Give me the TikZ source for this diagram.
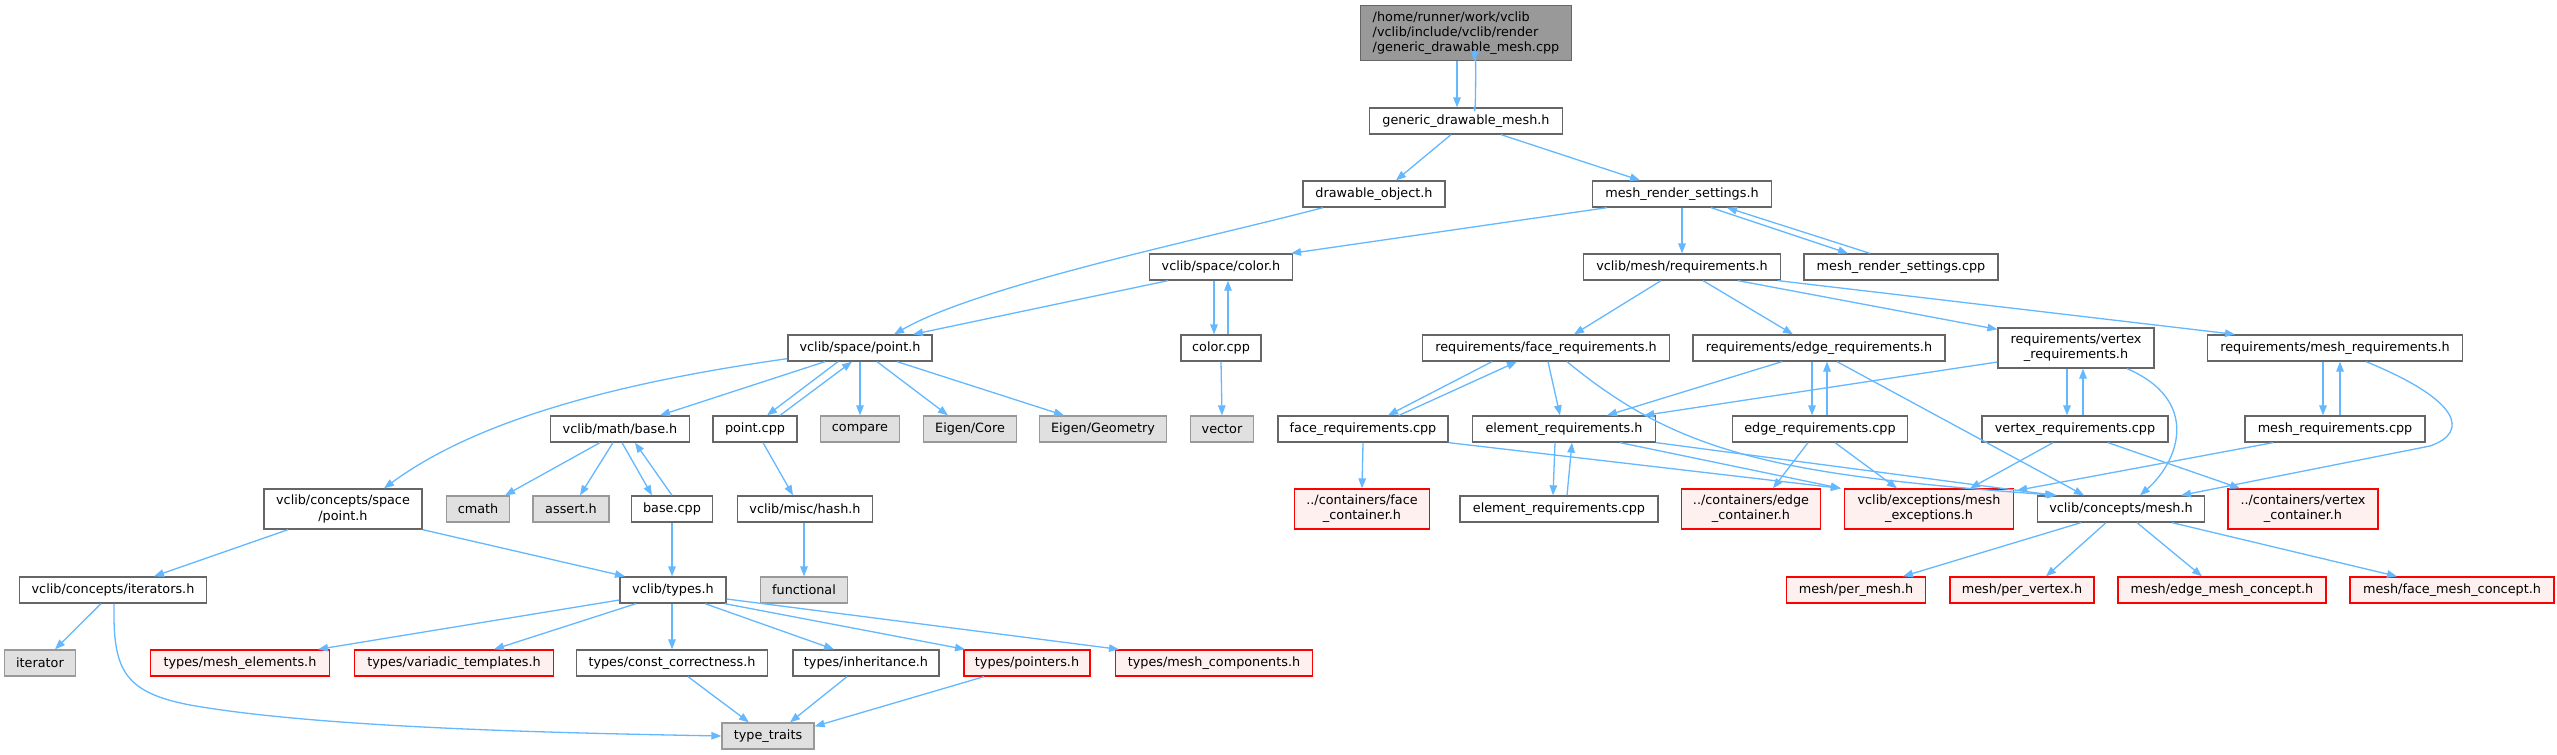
\documentclass[tikz,border=0pt]{standalone}
\usepackage{fontspec}
\usetikzlibrary{arrows.meta}
\newfontfamily\dvsans{DejaVu Sans}
\newcommand\nodefont{\dvsans\fontsize{12.8}{15.2}\selectfont}
\definecolor{edgeblue}{HTML}{63B8FF}
\definecolor{bordergray}{HTML}{666666}
\definecolor{rootfill}{HTML}{999999}
\definecolor{sysfill}{HTML}{E0E0E0}
\definecolor{sysborder}{HTML}{999999}
\definecolor{undocfill}{HTML}{FFF0F0}
\definecolor{undocborder}{HTML}{FF0000}
\tikzset{
  nd/.style={draw=bordergray, fill=white, line width=1.3pt, minimum height=26, inner xsep=3pt, inner ysep=1pt, font=\nodefont, align=center},
  two/.style={minimum height=40},
  rootnode/.style={nd, fill=rootfill, minimum height=55, align=left},
  sys/.style={nd, draw=sysborder, fill=sysfill},
  undoc/.style={nd, draw=undocborder, fill=undocfill},
  dep/.style={draw=edgeblue, line width=1.3pt, -{Triangle[length=10pt,width=7.5pt]}}
}
\begin{document}
\begin{tikzpicture}[x=1pt,y=-1pt]
\useasboundingbox[fill=white] (0,0) rectangle (2557,755);
% row 0
\node[rootnode, minimum width=211] (root) at (1466,33) {/home/runner/work/vclib\\/vclib/include/vclib/render\\/generic\_drawable\_mesh.cpp};
% row 1
\node[nd, minimum width=193] (gdm) at (1466,121) {generic\_drawable\_mesh.h};
% row 2
\node[nd, minimum width=142] (dobj) at (1374,194) {drawable\_object.h};
\node[nd, minimum width=179] (mrs) at (1682,194) {mesh\_render\_settings.h};
% row 3
\node[nd, minimum width=143] (color) at (1221,267) {vclib/space/color.h};
\node[nd, minimum width=197] (req) at (1682,267) {vclib/mesh/requirements.h};
\node[nd, minimum width=194] (mrscpp) at (1901,267) {mesh\_render\_settings.cpp};
% row 4
\node[nd, minimum width=144] (point) at (860,348) {vclib/space/point.h};
\node[nd, minimum width=80] (colorcpp) at (1221,348) {color.cpp};
\node[nd, minimum width=247] (facereq) at (1546,348) {requirements/face\_requirements.h};
\node[nd, minimum width=252] (edgereq) at (1819,348) {requirements/edge\_requirements.h};
\node[nd, two, minimum width=156] (vertreq) at (2076,348) {requirements/vertex\\\_requirements.h};
\node[nd, minimum width=255] (meshreq) at (2335,348) {requirements/mesh\_requirements.h};
% row 5
\node[nd, minimum width=139] (mathbase) at (620,429) {vclib/math/base.h};
\node[nd, minimum width=84] (pointcpp) at (755,429) {point.cpp};
\node[sys, minimum width=79] (compare) at (860,429) {compare};
\node[sys, minimum width=93] (eigencore) at (970,429) {Eigen/Core};
\node[sys, minimum width=127] (eigengeo) at (1103,429) {Eigen/Geometry};
\node[sys, minimum width=63] (vector) at (1222,429) {vector};
\node[nd, minimum width=170] (facecpp) at (1363,429) {face\_requirements.cpp};
\node[nd, minimum width=183] (elemreq) at (1564,429) {element\_requirements.h};
\node[nd, minimum width=175] (edgecpp) at (1820,429) {edge\_requirements.cpp};
\node[nd, minimum width=186] (vertcpp) at (2075,429) {vertex\_requirements.cpp};
\node[nd, minimum width=180] (meshcpp) at (2335,429) {mesh\_requirements.cpp};
% row 6
\node[nd, two, minimum width=158] (cspoint) at (343,509) {vclib/concepts/space\\/point.h};
\node[sys, minimum width=63] (cmath) at (478,509) {cmath};
\node[sys, minimum width=76] (assert) at (571,509) {assert.h};
\node[nd, minimum width=81] (basecpp) at (672,509) {base.cpp};
\node[nd, minimum width=135] (hash) at (805,509) {vclib/misc/hash.h};
\node[undoc, two, minimum width=135] (facecont) at (1362,509) {../containers/face\\\_container.h};
\node[nd, minimum width=198] (elemcpp) at (1559,509) {element\_requirements.cpp};
\node[undoc, two, minimum width=139] (edgecont) at (1751,509) {../containers/edge\\\_container.h};
\node[undoc, two, minimum width=169] (meshexc) at (1929,509) {vclib/exceptions/mesh\\\_exceptions.h};
\node[nd, minimum width=167] (cmesh) at (2121,509) {vclib/concepts/mesh.h};
\node[undoc, two, minimum width=150] (vertcont) at (2303,509) {../containers/vertex\\\_container.h};
% row 7
\node[nd, minimum width=187] (iterators) at (113,590) {vclib/concepts/iterators.h};
\node[nd, minimum width=106] (types) at (673,590) {vclib/types.h};
\node[sys, minimum width=87] (functional) at (804,590) {functional};
\node[undoc, minimum width=139] (permesh) at (1856,590) {mesh/per\_mesh.h};
\node[undoc, minimum width=144] (pervertex) at (2022,590) {mesh/per\_vertex.h};
\node[undoc, minimum width=208] (edgeconcept) at (2222,590) {mesh/edge\_mesh\_concept.h};
\node[undoc, minimum width=204] (faceconcept) at (2452,590) {mesh/face\_mesh\_concept.h};
% row 8
\node[sys, minimum width=71] (iterator) at (40,663) {iterator};
\node[undoc, minimum width=179] (meshelem) at (240,663) {types/mesh\_elements.h};
\node[undoc, minimum width=199] (variadic) at (454,663) {types/variadic\_templates.h};
\node[nd, minimum width=191] (constcorr) at (672,663) {types/const\_correctness.h};
\node[nd, minimum width=146] (inherit) at (866,663) {types/inheritance.h};
\node[undoc, minimum width=126] (pointers) at (1027,663) {types/pointers.h};
\node[undoc, minimum width=197] (meshcomp) at (1214,663) {types/mesh\_components.h};
% row 9
\node[sys, minimum width=92] (typetraits) at (768,736) {type\_traits};

% ---------- edges ----------
\draw[dep] ([xshift=-9]root.south) -- ([xshift=-9]gdm.north);
\draw[dep] ([xshift=8]gdm.north) .. controls ([xshift=10,yshift=-20]gdm.north) and ([xshift=10,yshift=20]root.south) .. ([xshift=8]root.south);
\draw[dep] ([xshift=-15]gdm.south) -- ([xshift=22]dobj.north);
\draw[dep] ([xshift=35]gdm.south) -- ([xshift=-42]mrs.north);
\draw[dep] ([xshift=-51]dobj.south) .. controls (1200,240) and (980,285) .. ([xshift=34]point.north);
\draw[dep] ([xshift=-75]mrs.south) -- ([xshift=70]color.north);
\draw[dep] (mrs.south) -- (req.north);
\draw[dep] ([xshift=29]mrs.south) -- ([xshift=-53]mrscpp.north);
\draw[dep] ([xshift=-31]mrscpp.north) -- ([xshift=45]mrs.south);
\draw[dep] ([xshift=-53]color.south) -- ([xshift=53]point.north);
\draw[dep] ([xshift=-7]color.south) -- ([xshift=-7]colorcpp.north);
\draw[dep] ([xshift=7]colorcpp.north) -- ([xshift=7]color.south);
\draw[dep] (colorcpp.south) -- (vector.north);
\draw[dep] ([yshift=3]point.south west) .. controls (600,385) and (470,425) .. ([xshift=41]cspoint.north);
\draw[dep] ([xshift=-35]point.south) -- ([xshift=40]mathbase.north);
\draw[dep] ([xshift=-22]point.south) -- ([xshift=12]pointcpp.north);
\draw[dep] ([xshift=25]pointcpp.north) -- ([xshift=-8]point.south);
\draw[dep] (point.south) -- (compare.north);
\draw[dep] ([xshift=17]point.south) -- ([xshift=-22]eigencore.north);
\draw[dep] ([xshift=37]point.south) -- ([xshift=-39]eigengeo.north);
\draw[dep] ([xshift=-20]mathbase.south) -- ([xshift=27]cmath.north);
\draw[dep] ([xshift=-7]mathbase.south) -- ([xshift=9]assert.north);
\draw[dep] ([xshift=2]mathbase.south) -- ([xshift=-20]basecpp.north);
\draw[dep] (basecpp.north) -- ([xshift=15]mathbase.south);
\draw[dep] (basecpp.south) -- ([xshift=-1]types.north);
\draw[dep] ([xshift=8]pointcpp.south) -- ([xshift=-12]hash.north);
\draw[dep] ([xshift=-1]hash.south) -- (functional.north);
\draw[dep] ([xshift=-55]cspoint.south) -- ([xshift=41]iterators.north);
\draw[dep] (cspoint.south east) -- ([xshift=-48]types.north);
\draw[dep] ([xshift=-12]iterators.south) -- ([xshift=15]iterator.north);
\draw[dep] ([xshift=1]iterators.south) .. controls (113,668) and (122,692) .. (190,705) .. controls (320,728) and (560,733) .. (typetraits.west);
\draw[dep] ([yshift=-10]types.west) -- ([xshift=78]meshelem.north);
\draw[dep] ([xshift=-37]types.south) -- ([xshift=40]variadic.north);
\draw[dep] ([xshift=-1]types.south) -- (constcorr.north);
\draw[dep] ([xshift=32]types.south) -- ([xshift=-32]inherit.north);
\draw[dep] ([xshift=-2]types.south east) -- ([xshift=-62]pointers.north);
\draw[dep] ([yshift=-9]types.east) -- ([xshift=-95]meshcomp.north);
\draw[dep] ([xshift=16]constcorr.south) -- ([xshift=-19]typetraits.north);
\draw[dep] ([xshift=-19]inherit.south) -- ([xshift=22]typetraits.north);
\draw[dep] ([xshift=-43]pointers.south) -- ([yshift=-4]typetraits.north east);
\draw[dep] ([xshift=-21]req.south) -- ([xshift=28]facereq.north);
\draw[dep] ([xshift=21]req.south) -- ([xshift=-26]edgereq.north);
\draw[dep] ([xshift=56]req.south) -- ([yshift=-2]vertreq.north west);
\draw[dep] ([xshift=-3]req.south east) -- ([xshift=-100]meshreq.north);
\draw[dep] ([xshift=-54]facereq.south) -- ([xshift=25]facecpp.north);
\draw[dep] ([xshift=36]facecpp.north) -- ([xshift=-29]facereq.south);
\draw[dep] ([xshift=2]facereq.south) -- ([xshift=-4]elemreq.north);
\draw[dep] ([xshift=21]facereq.south) .. controls (1680,455) and (1780,475) .. ([xshift=-64]cmesh.north);
\draw[dep] ([xshift=-37]edgereq.south) -- ([xshift=43]elemreq.north);
\draw[dep] ([yshift=-14]vertreq.west) -- ([xshift=-12]elemreq.north east);
\draw[dep] ([xshift=-7]edgereq.south) -- ([xshift=-8]edgecpp.north);
\draw[dep] ([xshift=7]edgecpp.north) -- ([xshift=8]edgereq.south);
\draw[dep] ([xshift=18]edgereq.south) -- ([xshift=-37]cmesh.north);
\draw[dep] ([xshift=-9]vertreq.south) -- ([xshift=-8]vertcpp.north);
\draw[dep] ([xshift=8]vertcpp.north) -- ([xshift=7]vertreq.south);
\draw[dep] ([xshift=51]vertreq.south) .. controls (2200,400) and (2180,460) .. ([xshift=19]cmesh.north);
\draw[dep] ([xshift=-12]meshreq.south) -- ([xshift=-12]meshcpp.north);
\draw[dep] ([xshift=5]meshcpp.north) -- ([xshift=5]meshreq.south);
\draw[dep] ([xshift=31]meshreq.south) .. controls (2460,400) and (2470,432) .. (2430,446) -- ([xshift=60]cmesh.north);
\draw[dep] (facecpp.south) -- (facecont.north);
\draw[dep] (facecpp.south east) -- ([xshift=-3]meshexc.north west);
\draw[dep] ([xshift=56]elemreq.south) -- ([xshift=-3]meshexc.north west);
\draw[dep] (elemreq.south east) -- ([xshift=-66]cmesh.north);
\draw[dep] ([xshift=-9]elemreq.south) -- ([xshift=-6]elemcpp.north);
\draw[dep] ([xshift=8]elemcpp.north) -- ([xshift=8]elemreq.south);
\draw[dep] ([xshift=-12]edgecpp.south) -- ([xshift=22]edgecont.north);
\draw[dep] ([xshift=15]edgecpp.south) -- ([xshift=-32]meshexc.north);
\draw[dep] ([xshift=-22]vertcpp.south) -- ([xshift=41]meshexc.north);
\draw[dep] ([xshift=33]vertcpp.south) -- ([xshift=-63]vertcont.north);
\draw[dep] ([xshift=-62]meshcpp.south) -- ([xshift=3,yshift=-2]meshexc.north east);
\draw[dep] ([xshift=-40]cmesh.south) -- ([xshift=47]permesh.north);
\draw[dep] ([xshift=-15]cmesh.south) -- ([xshift=24]pervertex.north);
\draw[dep] ([xshift=16]cmesh.south) -- ([xshift=-20]edgeconcept.north);
\draw[dep] ([xshift=51]cmesh.south) -- ([xshift=-55]faceconcept.north);
\end{tikzpicture}
\end{document}
